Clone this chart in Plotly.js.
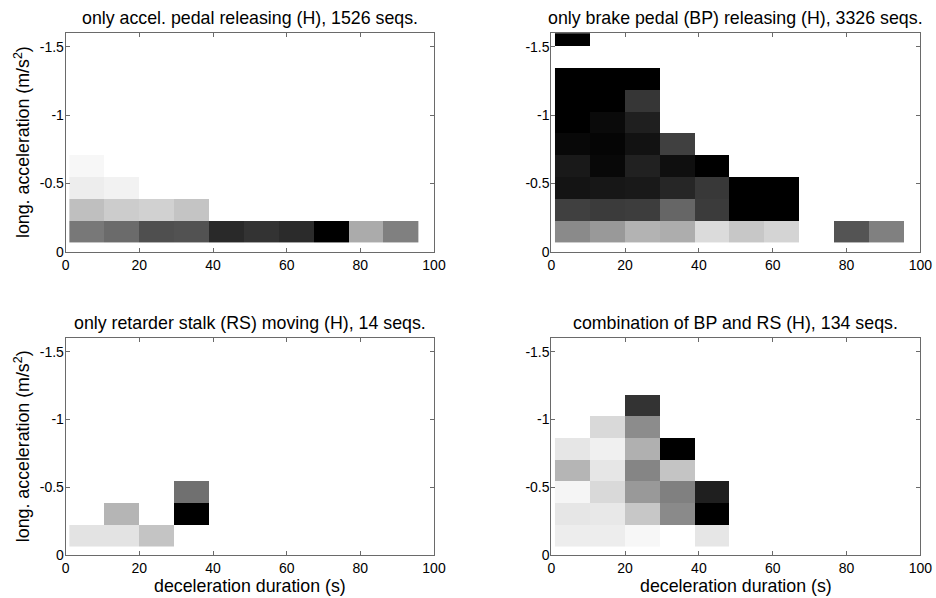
<!DOCTYPE html>
<html>
<head>
<meta charset="utf-8">
<script src="https://cdn.plot.ly/plotly-3.0.1.min.js"></script>
<style>
  html, body { margin: 0; padding: 0; background: #fff; }
  #chart { width: 936px; height: 598px; }
</style>
</head>
<body>
<div id="chart"></div>
<script>
// Bin centres: deceleration duration (s) and longitudinal acceleration (m/s^2)
const durationBins = [5.75, 15.25, 24.7, 34.15, 43.6, 53.05, 62.55, 72.05, 81.5, 90.95];
const accelBins = [-0.145, -0.305, -0.465, -0.625, -0.785, -0.945, -1.105, -1.265, -1.425, -1.585];

// Relative frequency per cell (0 = lightest, 1 = darkest); null = no sequences
// rows follow accelBins, columns follow durationBins
const accelPedal = [
  [0.53, 0.58, 0.69, 0.68, 0.84, 0.80, 0.83, 1.00, 0.33, 0.50],
  [0.25, 0.20, 0.18, 0.23, null, null, null, null, null, null],
  [0.07, 0.05, null, null, null, null, null, null, null, null],
  [0.03, null, null, null, null, null, null, null, null, null],
  [null, null, null, null, null, null, null, null, null, null],
  [null, null, null, null, null, null, null, null, null, null],
  [null, null, null, null, null, null, null, null, null, null],
  [null, null, null, null, null, null, null, null, null, null],
  [null, null, null, null, null, null, null, null, null, null],
  [null, null, null, null, null, null, null, null, null, null]
];

const brakePedal = [
  [0.46, 0.40, 0.30, 0.32, 0.14, 0.22, 0.17, null, 0.67, 0.50],
  [0.75, 0.77, 0.76, 0.60, 0.77, 1.00, 1.00, null, null, null],
  [0.92, 0.91, 0.90, 0.85, 0.78, 1.00, 1.00, null, null, null],
  [0.90, 0.97, 0.87, 0.94, 1.00, null, null, null, null, null],
  [0.97, 0.98, 0.93, 0.75, null, null, null, null, null, null],
  [1.00, 0.96, 0.88, null, null, null, null, null, null, null],
  [1.00, 1.00, 0.79, null, null, null, null, null, null, null],
  [1.00, 1.00, 1.00, null, null, null, null, null, null, null],
  [null, null, null, null, null, null, null, null, null, null],
  [1.00, null, null, null, null, null, null, null, null, null]
];

const retarderStalk = [
  [0.11, 0.11, 0.23, null, null, null, null, null, null, null],
  [null, 0.29, null, 1.00, null, null, null, null, null, null],
  [null, null, null, 0.56, null, null, null, null, null, null],
  [null, null, null, null, null, null, null, null, null, null],
  [null, null, null, null, null, null, null, null, null, null],
  [null, null, null, null, null, null, null, null, null, null],
  [null, null, null, null, null, null, null, null, null, null],
  [null, null, null, null, null, null, null, null, null, null],
  [null, null, null, null, null, null, null, null, null, null],
  [null, null, null, null, null, null, null, null, null, null]
];

const brakeAndRetarder = [
  [0.07, 0.07, 0.03, null, 0.10, null, null, null, null, null],
  [0.10, 0.09, 0.22, 0.46, 1.00, null, null, null, null, null],
  [0.04, 0.15, 0.40, 0.50, 0.88, null, null, null, null, null],
  [0.29, 0.10, 0.48, 0.23, null, null, null, null, null, null],
  [0.10, 0.06, 0.31, 1.00, null, null, null, null, null, null],
  [null, 0.15, 0.45, null, null, null, null, null, null, null],
  [null, null, 0.80, null, null, null, null, null, null, null],
  [null, null, null, null, null, null, null, null, null, null],
  [null, null, null, null, null, null, null, null, null, null],
  [null, null, null, null, null, null, null, null, null, null]
];

const panelTitles = [
  'only accel. pedal releasing (H), 1526 seqs.',
  'only brake pedal (BP) releasing (H), 3326 seqs.',
  'only retarder stalk (RS) moving (H), 14 seqs.',
  'combination of BP and RS (H), 134 seqs.'
];
const xTickVals = [0, 20, 40, 60, 80, 100];
const xTickText = ['0', '20', '40', '60', '80', '100'];
const yTickVals = [-1.5, -1, -0.5, 0];
const yTickText = ['-1.5', '-1', '-0.5', '0'];
const xLabel = 'deceleration duration (s)';
const yLabel = 'long. acceleration (m/s<sup>2</sup>)';

// ---- layout geometry (pixels) ----
const W = 936, H = 598;
const px = v => v / W;
const py = v => 1 - v / H;
const cols = [[65.7, 434.0], [551.3, 920.3]];
const rows = [[33.3, 251.7], [338.3, 555.0]];

const FONT = 'Liberation Sans, Arial, sans-serif';
const AXIS_COLOR = '#6a6a6a';
const TEXT_COLOR = '#000';
const LABEL_SIZE = 17.8;

const grayScale = [[0, 'rgb(255,255,255)'], [1, 'rgb(0,0,0)']];
const panels = [accelPedal, brakePedal, retarderStalk, brakeAndRetarder];

const data = panels.map((z, i) => ({
  type: 'heatmap',
  x: durationBins,
  y: accelBins,
  z: z,
  xaxis: i === 0 ? 'x' : 'x' + (i + 1),
  yaxis: i === 0 ? 'y' : 'y' + (i + 1),
  colorscale: grayScale,
  zmin: 0,
  zmax: 1,
  zsmooth: false,
  showscale: false,
  hoverongaps: false
}));

const layout = {
  width: W,
  height: H,
  margin: { l: 0, r: 0, t: 0, b: 0 },
  paper_bgcolor: '#fff',
  plot_bgcolor: '#fff',
  showlegend: false,
  font: { family: FONT, size: 14, color: TEXT_COLOR },
  annotations: []
};

function axisBase() {
  return {
    showgrid: false,
    zeroline: false,
    showline: true,
    linecolor: AXIS_COLOR,
    linewidth: 1,
    mirror: 'allticks',
    ticks: 'inside',
    ticklen: 4,
    tickcolor: AXIS_COLOR,
    tickwidth: 1,
    tickfont: { family: FONT, size: 14, color: TEXT_COLOR },
    fixedrange: true
  };
}

for (let i = 0; i < 4; i++) {
  const c = cols[i % 2], r = rows[Math.floor(i / 2)];
  const xa = i === 0 ? 'xaxis' : 'xaxis' + (i + 1);
  const ya = i === 0 ? 'yaxis' : 'yaxis' + (i + 1);
  const yid = i === 0 ? 'y' : 'y' + (i + 1);
  const xid = i === 0 ? 'x' : 'x' + (i + 1);
  layout[xa] = Object.assign(axisBase(), {
    domain: [px(c[0]), px(c[1])],
    anchor: yid,
    range: [0, 100],
    tickmode: 'array',
    tickvals: xTickVals,
    ticktext: xTickText
  });
  layout[ya] = Object.assign(axisBase(), {
    domain: [py(r[1]), py(r[0])],
    anchor: xid,
    range: [0, -1.6],
    tickmode: 'array',
    tickvals: yTickVals,
    ticktext: yTickText,
    ticklabelstandoff: -2
  });

  // panel title
  layout.annotations.push({
    text: panelTitles[i],
    xref: 'paper', yref: 'paper',
    x: px((c[0] + c[1]) / 2), y: py(r[0] - 15.5),
    xanchor: 'center', yanchor: 'middle',
    showarrow: false,
    font: { family: FONT, size: LABEL_SIZE, color: TEXT_COLOR }
  });
}

// y-axis labels on the left column
rows.forEach(r => {
  layout.annotations.push({
    text: yLabel,
    xref: 'paper', yref: 'paper',
    x: px(21.5), y: py((r[0] + r[1]) / 2),
    xanchor: 'center', yanchor: 'middle',
    textangle: -90,
    showarrow: false,
    font: { family: FONT, size: LABEL_SIZE, color: TEXT_COLOR }
  });
});

// x-axis labels under the bottom row
cols.forEach(c => {
  layout.annotations.push({
    text: xLabel,
    xref: 'paper', yref: 'paper',
    x: px((c[0] + c[1]) / 2), y: py(586),
    xanchor: 'center', yanchor: 'middle',
    showarrow: false,
    font: { family: FONT, size: LABEL_SIZE, color: TEXT_COLOR }
  });
});

Plotly.newPlot('chart', data, layout, { displayModeBar: false, staticPlot: true });
</script>
</body>
</html>
